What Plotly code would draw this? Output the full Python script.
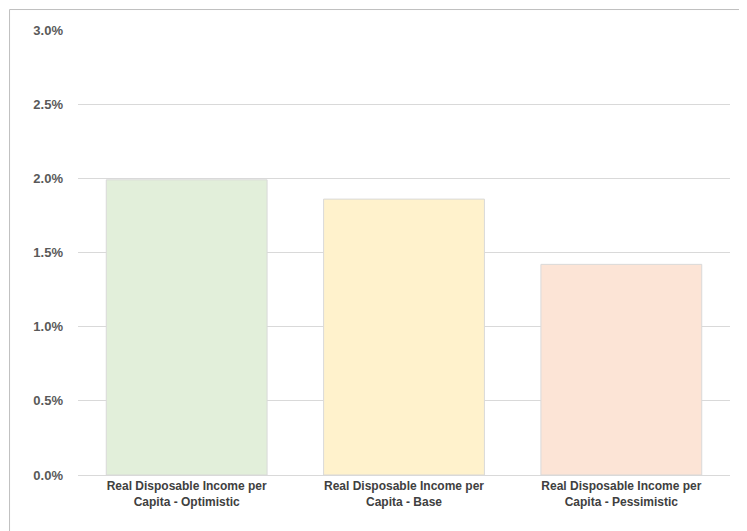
import plotly.graph_objects as go

categories = ["Real Disposable Income per<br>Capita - Optimistic",
              "Real Disposable Income per<br>Capita - Base",
              "Real Disposable Income per<br>Capita - Pessimistic"]
values = [0.0199, 0.0186, 0.0142]
colors = ["#E2EFDA", "#FFF2CC", "#FCE4D6"]

fig = go.Figure(go.Bar(x=categories, y=values, marker_color=colors,
                       marker_line_color="#D9D9D9", marker_line_width=1))
fig.update_layout(
    width=747, height=531, paper_bgcolor="white", plot_bgcolor="white",
    margin=dict(l=70, r=25, t=22, b=64, autoexpand=False), bargap=0.26, showlegend=False,
    font=dict(family="Liberation Sans", size=12, color="#595959", weight="bold"),
    shapes=[dict(type="rect", xref="paper", yref="paper", x0=-0.105, x1=1.037, y0=-0.144, y1=1.046,
                 line=dict(color="#BFBFBF", width=1))],
)
fig.update_yaxes(range=[0, 0.03], dtick=0.005, tickformat=".1%", gridcolor="#D9D9D9",
                 zeroline=False, showline=False, ticks="", tickfont=dict(size=13, color="#595959"),
                 ticklabelstandoff=14)
fig.update_xaxes(showline=True, linecolor="#D9D9D9", tickfont=dict(size=12, color="#404040"))
fig.write_html("out.html")
